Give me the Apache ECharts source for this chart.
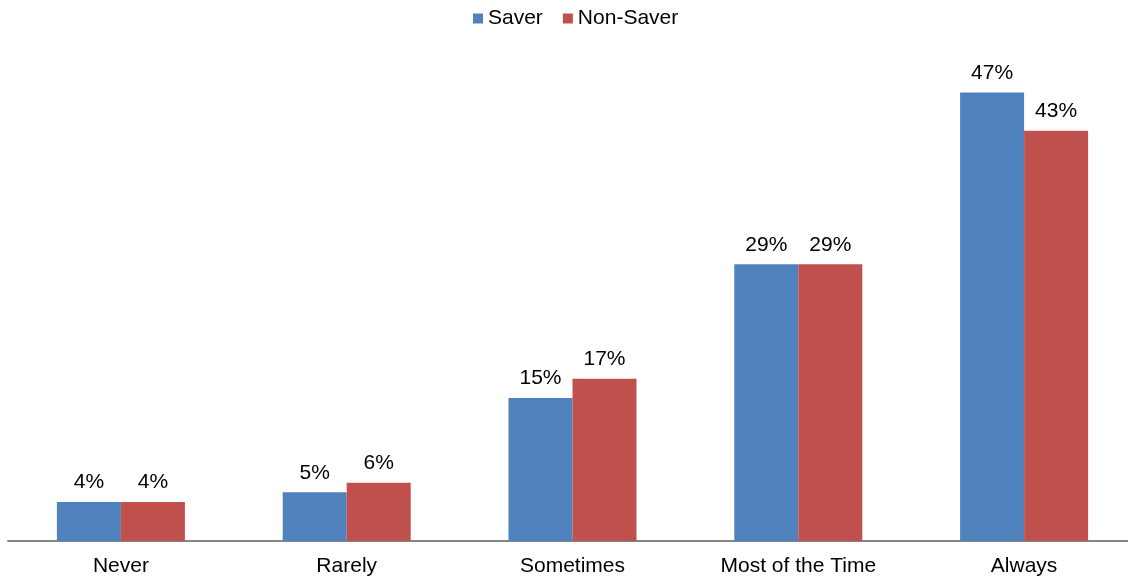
<!DOCTYPE html>
<html>
<head>
<meta charset="utf-8">
<script src="https://cdn.jsdelivr.net/npm/echarts@6/dist/echarts.min.js"></script>
<style>
  html, body { margin: 0; padding: 0; background: #fff; }
  #chart { width: 1128px; height: 579px; }
</style>
</head>
<body>
<div id="chart"></div>
<script>
// 数据
const categories = ['Never', 'Rarely', 'Sometimes', 'Most of the Time', 'Always']
const saverData = [4.1, 5.1, 15, 29, 47]
const nonSaverData = [4.1, 6.1, 17, 29, 43]

const chart = echarts.init(document.getElementById('chart'))
const labelStyle = {
  show: true,
  position: 'top',
  distance: 9,
  color: '#000',
  fontSize: 21,
  fontFamily: 'Liberation Sans, Arial, sans-serif',
  formatter: p => Math.round(p.value) + '%'
}
const option = {
  animation: false,
  textStyle: { fontFamily: 'Liberation Sans, Arial, sans-serif' },
  legend: {
    top: 3,
    left: 468,
    icon: 'rect',
    itemWidth: 10,
    itemHeight: 10,
    itemGap: 20,
    textStyle: { color: '#000', fontSize: 21, padding: [0, 0, 0, 0] }
  },
  grid: {
    left: 8,
    right: -9,
    top: 64,
    bottom: 38,
    outerBoundsMode: 'none' // 允许网格超出容器
  },
  xAxis: {
    type: 'category',
    data: categories,
    axisLine: { lineStyle: { color: '#868686', width: 2 } },
    axisTick: { show: false },
    axisLabel: { color: '#000', fontSize: 21, margin: 15 }
  },
  yAxis: {
    type: 'value',
    min: 0,
    max: 50,
    show: false,
    splitLine: { show: false }
  },
  series: [
    {
      name: 'Saver',
      type: 'bar',
      data: saverData,
      barWidth: 64,
      barGap: '0%',
      itemStyle: { color: '#4F81BD' },
      label: labelStyle
    },
    {
      name: 'Non-Saver',
      type: 'bar',
      data: nonSaverData,
      barWidth: 64,
      itemStyle: { color: '#C0504D' },
      label: labelStyle
    }
  ]
}
chart.setOption(option)
</script>
</body>
</html>
